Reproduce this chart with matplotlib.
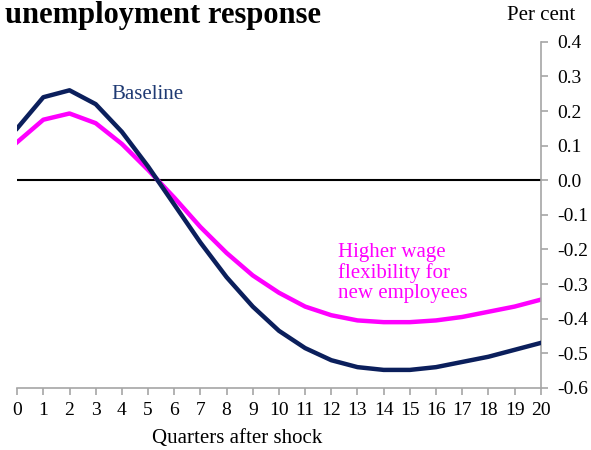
import matplotlib.pyplot as plt

quarters = list(range(21))
baseline = [0.15, 0.24, 0.26, 0.22, 0.14, 0.04, -0.07, -0.18, -0.28, -0.365, -0.435,
            -0.485, -0.52, -0.54, -0.548, -0.548, -0.54, -0.525, -0.51, -0.49, -0.47]
flexible = [0.11, 0.175, 0.193, 0.165, 0.105, 0.03, -0.05, -0.135, -0.21, -0.275, -0.325,
            -0.365, -0.39, -0.405, -0.41, -0.41, -0.405, -0.395, -0.38, -0.365, -0.345]
yticks = [0.4, 0.3, 0.2, 0.1, 0.0, -0.1, -0.2, -0.3, -0.4, -0.5, -0.6]

plt.rcParams['font.family'] = ['Liberation Serif', 'DejaVu Serif']

fig = plt.figure(figsize=(5.91, 4.5), dpi=100)
ax = fig.add_axes([0.029, 0.138, 0.886, 0.769])

ax.axhline(0, color='black', lw=1.5, zorder=1)
ax.plot(quarters, baseline, color='#0b1f5c', lw=3.2, zorder=3)
ax.plot(quarters, flexible, color='#ff00ff', lw=3.2, zorder=2)

ax.set_xlim(0, 20)
ax.set_ylim(-0.6, 0.4)
ax.set_xticks(quarters)
ax.set_yticks(yticks)
ax.set_yticklabels([f'{v:.1f}' for v in yticks])
ax.yaxis.tick_right()

for s in ['left', 'top']:
    ax.spines[s].set_visible(False)
for s in ['bottom', 'right']:
    ax.spines[s].set_color('#a6a6a6')
    ax.spines[s].set_linewidth(1.2)
ax.tick_params(axis='both', colors='#a6a6a6', labelcolor='black', labelsize=14,
               length=5, width=1.2, direction='out')
ax.tick_params(axis='x', pad=5)
ax.tick_params(axis='y', pad=7)

ax.set_xlabel('Quarters after shock', fontsize=15)
ax.xaxis.label.set_va('center')
ax.xaxis.set_label_coords(0.42, -0.145)

ax.text(3.6, 0.235, 'Baseline', color='#1f3a73', fontsize=15)
ax.text(12.25, -0.18, 'Higher wage\nflexibility for\nnew employees', color='#ff00ff',
        fontsize=15, va='top', linespacing=1.1)

fig.text(0.008, 0.997, 'unemployment response', fontsize=22, fontweight='bold', va='top')
fig.text(0.858, 0.945, 'Per cent', fontsize=15, va='bottom')

fig.savefig('out.png', dpi=100)
